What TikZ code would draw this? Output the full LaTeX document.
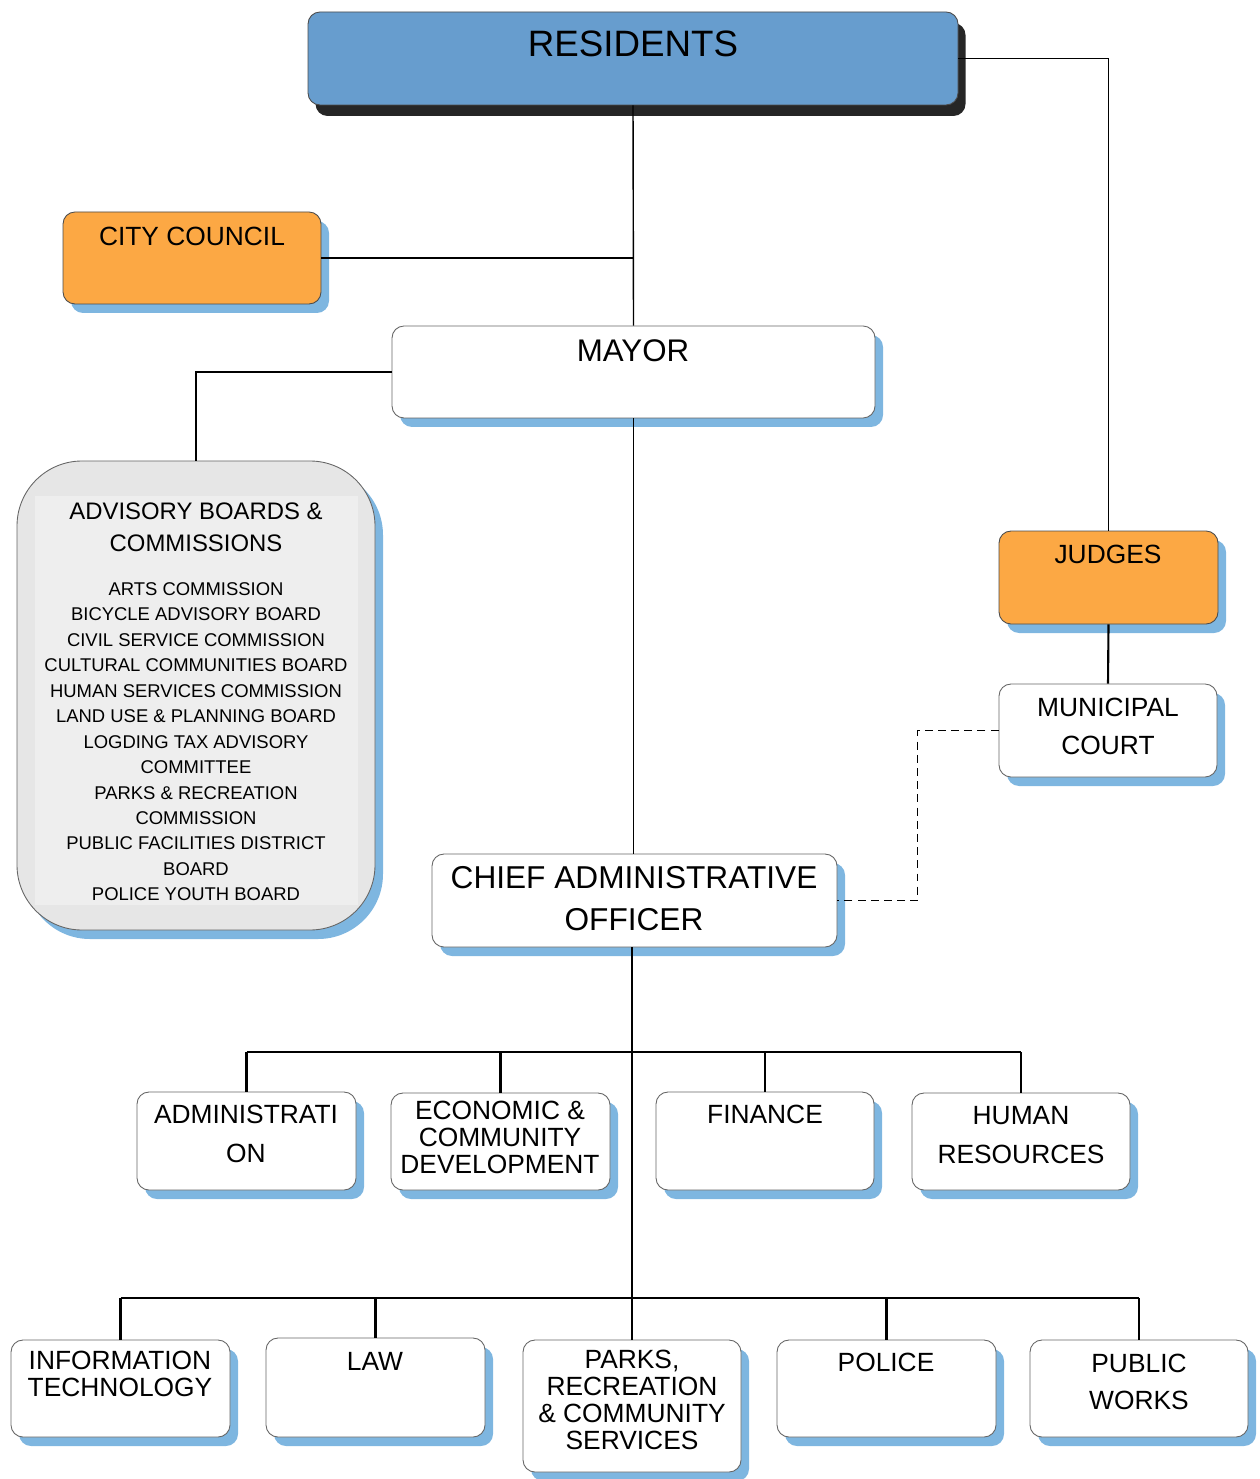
\documentclass[tikz,border=0pt]{standalone}
\usepackage{fontspec}
\setmainfont{Liberation Sans}
\usetikzlibrary{fit,shadows}

\definecolor{resblue}{RGB}{103,157,206}
\definecolor{shadowblue}{RGB}{126,182,224}
\definecolor{orgorange}{RGB}{252,168,68}
\definecolor{advgray}{RGB}{230,230,230}
\definecolor{advinner}{RGB}{238,238,238}

\newcommand{\fsz}[2]{\fontsize{#1}{#2}\selectfont}

\tikzset{
    box/.style={draw=black!60, line width=0.5pt, rounded corners=0.24cm, fill=white, inner sep=0pt,
        drop shadow={shadow xshift=0.16cm, shadow yshift=-0.18cm, fill=shadowblue, draw=none, opacity=1}},
    orangebox/.style={box, fill=orgorange, draw=black!70},
    topbox/.style={draw=black!70, line width=0.5pt, rounded corners=0.24cm, fill=resblue, inner sep=0pt,
        drop shadow={shadow xshift=0.15cm, shadow yshift=-0.22cm, fill=black!85, draw=none, opacity=1}},
    advbox/.style={box, fill=advgray, rounded corners=1.3cm},
    txt/.style={inner sep=0pt, anchor=north, align=center},
    link/.style={line width=0.8pt},
    bus/.style={line width=1.4pt}
}

\begin{document}
\begin{tikzpicture}[x=0.02cm, y=-0.02cm]

    \useasboundingbox (0,0) rectangle (1259,1479);

    % Top of the chart
    \node[topbox, fit={(308,12) (958,105)}] (res) {};
    \node[txt, font=\fsz{20.9}{25}] (res-t) at (633,31) {RESIDENTS};

    \node[orangebox, fit={(63,212) (321,304)}] (council) {};
    \node[txt, font=\fsz{15}{18}] (council-t) at (192,227) {CITY COUNCIL};

    \node[box, fit={(392,326) (875,418)}] (mayor) {};
    \node[txt, font=\fsz{17.8}{21}] (mayor-t) at (633,339) {MAYOR};

    % Advisory boards
    \node[advbox, fit={(17,461) (375,930)}] (adv) {};
    \fill[advinner] (35,496) rectangle (358,905);
    \node[txt, font=\fsz{13.6}{18.7}] (adv-t) at (196,502) {ADVISORY BOARDS \&\\COMMISSIONS};
    \node[txt, font=\fsz{10.5}{14.5}] (adv-list) at (196,582) {ARTS COMMISSION\\BICYCLE ADVISORY BOARD\\CIVIL SERVICE COMMISSION\\CULTURAL COMMUNITIES BOARD\\HUMAN SERVICES COMMISSION\\LAND USE \& PLANNING BOARD\\LOGDING TAX ADVISORY\\COMMITTEE\\PARKS \& RECREATION\\COMMISSION\\PUBLIC FACILITIES DISTRICT\\BOARD\\POLICE YOUTH BOARD};

    % Courts
    \node[orangebox, fit={(999,531) (1218,624)}] (judges) {};
    \node[txt, font=\fsz{15}{18}] (judges-t) at (1108,545) {JUDGES};

    \node[box, fit={(999,684) (1217,777)}] (court) {};
    \node[txt, font=\fsz{15}{21.5}] (court-t) at (1108,698) {MUNICIPAL\\COURT};

    \node[box, fit={(432,854) (837,947)}] (cao) {};
    \node[txt, font=\fsz{18}{23.8}] (cao-t) at (634,866) {CHIEF ADMINISTRATIVE\\OFFICER};

    % First row of departments
    \node[box, fit={(137,1092) (356,1190)}] (admin) {};
    \node[txt, font=\fsz{15}{22}] (admin-t) at (246,1105) {ADMINISTRATI\\ON};

    \node[box, fit={(391,1093) (610,1190)}] (econ) {};
    \node[txt, font=\fsz{15}{15.3}] (econ-t) at (500,1101) {ECONOMIC \&\\COMMUNITY\\DEVELOPMENT};

    \node[box, fit={(656,1092) (874,1190)}] (fin) {};
    \node[txt, font=\fsz{15}{18}] (fin-t) at (765,1105) {FINANCE};

    \node[box, fit={(912,1093) (1130,1190)}] (hr) {};
    \node[txt, font=\fsz{15}{22}] (hr-t) at (1021,1106) {HUMAN\\RESOURCES};

    % Second row of departments
    \node[box, fit={(11,1340) (230,1437)}] (it) {};
    \node[txt, font=\fsz{15}{15.3}] (it-t) at (120,1351) {INFORMATION\\TECHNOLOGY};

    \node[box, fit={(266,1338) (485,1437)}] (law) {};
    \node[txt, font=\fsz{15}{18}] (law-t) at (375,1352) {LAW};

    \node[box, fit={(523,1340) (741,1472)}] (parks) {};
    \node[txt, font=\fsz{15}{15.3}] (parks-t) at (632,1350) {PARKS,\\RECREATION\\\& COMMUNITY\\SERVICES};

    \node[box, fit={(777,1340) (996,1437)}] (police) {};
    \node[txt, font=\fsz{15}{18}] (police-t) at (886,1353) {POLICE};

    \node[box, fit={(1030,1340) (1248,1437)}] (works) {};
    \node[txt, font=\fsz{15}{21}] (works-t) at (1139,1354) {PUBLIC\\WORKS};

    % Connectors
    \draw[link] (res.south) -- (mayor.north);
    \draw[link] (council.east) -- (council.east -| res.south);
    \draw[link] (res.east) -| (judges.north);
    \draw[line width=1.2pt] (judges.south) -- (court.north);
    \draw[link] (mayor.west) -| (adv.north);
    \draw[link] (mayor.south) -- (mayor.south |- cao.north);
    \draw[link, dash pattern=on 4.5pt off 3pt] (court.west) -- ++(-81,0) |- (cao.east);
    \draw[link] (parks.north |- cao.south) -- (parks.north);

    % Department buses
    \coordinate (bus1) at (633,1052);
    \coordinate (bus2) at (633,1298);
    \draw[bus] (admin.north |- bus1) -- (hr.north |- bus1);
    \foreach \d in {admin,econ,fin,hr} {
        \draw[bus] (\d.north |- bus1) -- (\d.north);
    }
    \draw[bus] (it.north |- bus2) -- (works.north |- bus2);
    \foreach \d in {it,law,police,works} {
        \draw[bus] (\d.north |- bus2) -- (\d.north);
    }

\end{tikzpicture}
\end{document}
